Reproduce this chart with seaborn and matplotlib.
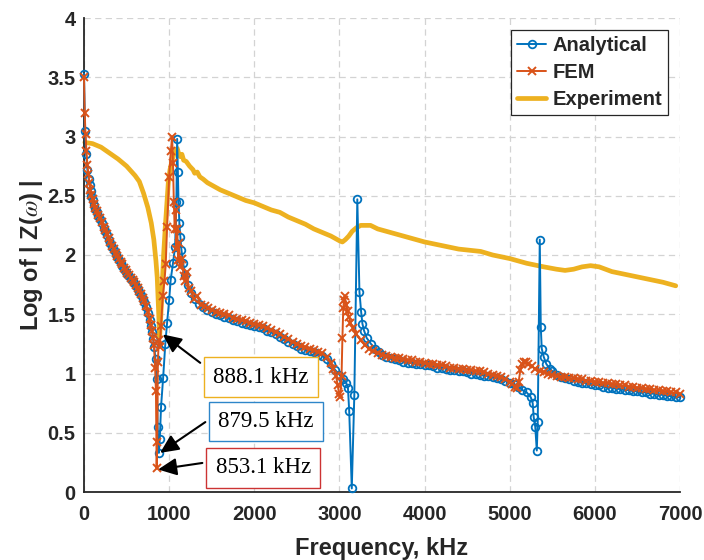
import matplotlib
matplotlib.use("Agg")
import matplotlib.pyplot as plt
from matplotlib.ticker import FuncFormatter, MultipleLocator
import pandas as pd
import seaborn as sns

# ---------------- data ----------------
ana_freq = [0, 12, 25, 40, 55, 66, 77, 88, 100, 115, 130, 150, 170, 190, 210, 230, 250, 270,
            290, 310, 330, 350, 370, 390, 410, 430, 450, 470, 490, 510, 530, 550, 570, 590,
            610, 630, 650, 670, 690, 710, 730, 750, 770, 785, 800, 812, 825, 840, 855, 865,
            879.5, 890, 905, 929, 955, 976,
            1000, 1018, 1045, 1070, 1085, 1094, 1102, 1110, 1120, 1132, 1145, 1165, 1190, 1220,
            1260, 1300, 1350, 1400, 1450, 1500, 1550, 1600, 1650, 1700, 1750, 1800, 1850, 1900,
            1950, 2000, 2050, 2100, 2150, 2200, 2250, 2300, 2350, 2400, 2450, 2500, 2550, 2600,
            2650, 2700, 2750, 2800, 2850, 2900, 2950, 3000, 3040, 3080, 3100, 3115, 3145, 3175,
            3210, 3235, 3255, 3270, 3290, 3320, 3370, 3420, 3470, 3500, 3550, 3600, 3650, 3700,
            3750, 3800, 3850, 3900, 3950, 4000, 4050, 4100, 4150, 4200, 4250, 4300, 4350, 4400,
            4450, 4500, 4550, 4600, 4650, 4700, 4750, 4800, 4850, 4900, 4950, 5000, 5050, 5100,
            5150, 5200, 5247, 5270, 5282, 5300, 5318, 5329, 5353, 5365, 5376, 5400, 5430, 5470,
            5500, 5550, 5600, 5650, 5700, 5750, 5800, 5850, 5900, 5950, 6000, 6050, 6100, 6150,
            6200, 6250, 6300, 6350, 6400, 6450, 6500, 6550, 6600, 6650, 6700, 6750, 6800, 6850,
            6900, 6950, 7000]
ana_val = [3.53, 3.05, 2.85, 2.72, 2.64, 2.59, 2.54, 2.50, 2.46, 2.42, 2.39, 2.36, 2.33, 2.30,
           2.27, 2.23, 2.20, 2.17, 2.13, 2.10, 2.07, 2.04, 2.01, 1.98, 1.96, 1.93, 1.91, 1.88,
           1.86, 1.84, 1.82, 1.80, 1.78, 1.76, 1.74, 1.71, 1.69, 1.66, 1.63, 1.60, 1.56, 1.51,
           1.45, 1.40, 1.35, 1.29, 1.22, 1.12, 0.95, 0.55,
           0.33, 0.45, 0.72, 0.96, 1.25, 1.43, 1.62, 1.79, 1.93, 2.07, 2.45, 2.98, 2.70, 2.45,
           2.27, 2.15, 2.04, 1.93, 1.83, 1.75, 1.68, 1.63, 1.59, 1.56, 1.54, 1.52, 1.50, 1.49,
           1.48, 1.47, 1.45, 1.44, 1.43, 1.42, 1.41, 1.40, 1.39, 1.38, 1.36, 1.35, 1.33, 1.31,
           1.29, 1.27, 1.25, 1.23, 1.21, 1.20, 1.19, 1.18, 1.16, 1.15, 1.12, 1.08, 1.03, 0.99,
           0.95, 0.92, 0.88, 0.68, 0.03, 0.82, 2.47, 1.69, 1.52, 1.42, 1.36, 1.30, 1.25, 1.21,
           1.18, 1.16, 1.14, 1.13, 1.12, 1.11, 1.10, 1.09, 1.09, 1.08, 1.08, 1.07, 1.07, 1.06,
           1.05, 1.05, 1.04, 1.03, 1.03, 1.02, 1.02, 1.01, 1.00, 1.00, 0.99, 0.98, 0.98, 0.97,
           0.96, 0.95, 0.94, 0.92, 0.91, 0.89, 0.86, 0.84, 0.80, 0.75, 0.63, 0.55, 0.35, 0.59,
           2.13, 1.39, 1.21, 1.14, 1.08, 1.04, 1.02, 0.99, 0.97, 0.96, 0.95, 0.94, 0.93, 0.92,
           0.92, 0.91, 0.90, 0.90, 0.89, 0.88, 0.88, 0.87, 0.87, 0.86, 0.86, 0.85, 0.85, 0.84,
           0.84, 0.83, 0.83, 0.82, 0.82, 0.81, 0.81, 0.80, 0.80]

fem_freq = [0, 8, 18, 28, 40, 52, 64, 75, 88, 100, 115, 130, 150, 170, 190, 210, 230, 250,
            270, 290, 310, 330, 350, 370, 390, 410, 430, 450, 470, 490, 510, 530, 550, 570,
            590, 610, 630, 650, 670, 690, 710, 730, 750, 770, 785, 800, 812, 822, 835, 845,
            853.1, 860, 868, 878, 890, 905,
            925, 945, 960, 976, 1000, 1020, 1035, 1045, 1055, 1065, 1075, 1085, 1095, 1105,
            1115, 1130, 1150, 1170, 1190, 1210, 1230, 1260, 1290, 1330, 1370, 1420, 1460, 1500,
            1550, 1600, 1650, 1700, 1750, 1800, 1850, 1900, 1950, 2000, 2050, 2100, 2150, 2200,
            2250, 2300, 2350, 2400, 2450, 2500, 2550, 2600, 2650, 2700, 2750, 2800, 2850, 2900,
            2930, 2960, 2980, 2995, 3010, 3025, 3035, 3045, 3055, 3065, 3080, 3095, 3110, 3130,
            3160, 3200, 3250, 3300, 3350, 3400, 3450, 3500, 3550, 3600, 3650, 3700, 3750, 3800,
            3850, 3900, 3950, 4000, 4050, 4100, 4150, 4200, 4250, 4300, 4350, 4400, 4450, 4500,
            4550, 4600, 4650, 4700, 4750, 4800, 4850, 4900, 4950, 5000, 5030, 5060, 5085, 5105,
            5125, 5145, 5165, 5190, 5220, 5260, 5300, 5350, 5400, 5450, 5500, 5550, 5600, 5650,
            5700, 5750, 5800, 5850, 5900, 5950, 6000, 6050, 6100, 6150, 6200, 6250, 6300, 6350,
            6400, 6450, 6500, 6550, 6600, 6650, 6700, 6750, 6800, 6850, 6900, 6950, 7000]
fem_val = [3.50, 3.20, 3.02, 2.88, 2.76, 2.68, 2.61, 2.55, 2.51, 2.47, 2.43, 2.40, 2.37, 2.34,
           2.31, 2.28, 2.24, 2.21, 2.18, 2.14, 2.11, 2.08, 2.05, 2.02, 1.99, 1.97, 1.94, 1.92,
           1.89, 1.87, 1.85, 1.83, 1.81, 1.79, 1.77, 1.75, 1.72, 1.70, 1.67, 1.64, 1.61, 1.57,
           1.52, 1.46, 1.41, 1.36, 1.30, 1.24, 1.05, 0.85,
           0.20, 0.42, 1.10, 1.28, 1.22, 1.40, 1.65, 1.78, 1.92, 2.24, 2.66, 2.88, 3.00, 2.78,
           2.45, 2.22, 2.38, 2.05, 2.22, 1.96, 2.10, 1.90, 1.97, 1.82, 1.78, 1.86, 1.72, 1.70,
           1.63, 1.65, 1.58, 1.57, 1.55, 1.54, 1.52, 1.51, 1.50, 1.49, 1.47, 1.46, 1.45, 1.44,
           1.43, 1.42, 1.41, 1.40, 1.38, 1.37, 1.35, 1.33, 1.31, 1.29, 1.27, 1.25, 1.23, 1.22,
           1.21, 1.20, 1.18, 1.17, 1.14, 1.09, 1.04, 0.98, 0.90, 0.83, 0.80, 0.98, 1.30, 1.55,
           1.62, 1.65, 1.58, 1.53, 1.48, 1.43, 1.38, 1.33, 1.28, 1.24, 1.21, 1.19, 1.17, 1.16,
           1.15, 1.14, 1.13, 1.13, 1.12, 1.11, 1.11, 1.10, 1.10, 1.09, 1.08, 1.08, 1.07, 1.07,
           1.06, 1.05, 1.05, 1.04, 1.04, 1.03, 1.03, 1.02, 1.02, 1.01, 1.00, 0.99, 0.98, 0.97,
           0.95, 0.93, 0.91, 0.89, 0.88, 0.93, 1.03, 1.08, 1.10, 1.10, 1.08, 1.06, 1.04, 1.02,
           1.01, 1.00, 0.99, 0.98, 0.97, 0.97, 0.96, 0.96, 0.95, 0.95, 0.94, 0.94, 0.93, 0.93,
           0.92, 0.92, 0.91, 0.91, 0.90, 0.90, 0.89, 0.89, 0.88, 0.88, 0.87, 0.87, 0.86, 0.86,
           0.85, 0.85, 0.84, 0.84, 0.83]

exp_freq = [10, 100, 200, 300, 400, 500, 600, 650, 700, 750, 790, 820, 845, 860, 875, 888.1,
            900, 915, 935, 955, 975, 990, 1010, 1035, 1060, 1080, 1095, 1110, 1130, 1150, 1170,
            1200, 1240, 1280, 1300, 1330, 1360, 1400, 1450, 1500, 1600, 1700, 1800, 1900, 2000,
            2100, 2200, 2300, 2400, 2500, 2600, 2700, 2800, 2900, 2950, 3000, 3035, 3070, 3110,
            3150, 3200, 3250, 3300, 3365, 3450, 3550, 3650, 3800, 4000, 4200, 4400, 4659, 4800,
            5000, 5200, 5400, 5550, 5650, 5750, 5850, 5950, 6050, 6200, 6400, 6600, 6800, 6950]
exp_val = [2.95, 2.94, 2.91, 2.86, 2.81, 2.75, 2.67, 2.62, 2.52, 2.40, 2.27, 2.13, 1.95, 1.81,
           1.55, 1.31, 1.45, 1.68, 2.00, 2.24, 2.45, 2.61, 2.72, 2.80, 2.86, 2.88, 2.90, 2.86,
           2.83, 2.85, 2.80, 2.79, 2.75, 2.72, 2.69, 2.70, 2.66, 2.64, 2.61, 2.59, 2.55, 2.52,
           2.49, 2.46, 2.44, 2.41, 2.38, 2.36, 2.32, 2.29, 2.26, 2.22, 2.19, 2.16, 2.14, 2.12,
           2.11, 2.13, 2.16, 2.20, 2.23, 2.25, 2.25, 2.25, 2.22, 2.20, 2.18, 2.15, 2.11, 2.08,
           2.05, 2.03, 2.00, 1.97, 1.93, 1.90, 1.88, 1.87, 1.88, 1.90, 1.91, 1.90, 1.86, 1.83,
           1.80, 1.77, 1.74]

callout_labels = ["888.1 kHz", "879.5 kHz", "853.1 kHz"]
x_ticks = [0, 1000, 2000, 3000, 4000, 5000, 6000, 7000]

# ---------------- style ----------------
sns.set_theme(style="white")
plt.rcParams["font.family"] = ["Liberation Sans", "DejaVu Sans"]
plt.rcParams["mathtext.fontset"] = "stix"

C_BLUE, C_ORANGE, C_YELLOW = "#0072BD", "#D95319", "#EDB120"
DARK = "#262626"

fig = plt.figure(figsize=(7.04, 5.6), dpi=100)
ax = fig.add_axes([84 / 704, 1 - 492 / 560, 596 / 704, 474 / 560])

df_a = pd.DataFrame({"f": ana_freq, "v": ana_val})
df_f = pd.DataFrame({"f": fem_freq, "v": fem_val})
df_e = pd.DataFrame({"f": exp_freq, "v": exp_val})

sns.lineplot(data=df_e, x="f", y="v", ax=ax, sort=False, estimator=None,
             color=C_YELLOW, lw=3.4, label="Experiment", zorder=2, clip_on=False)
sns.lineplot(data=df_a, x="f", y="v", ax=ax, sort=False, estimator=None,
             color=C_BLUE, lw=1.4, marker="o", markersize=5.5, markerfacecolor="none",
             markeredgecolor=C_BLUE, markeredgewidth=1.3, label="Analytical", zorder=3,
             clip_on=False)
sns.lineplot(data=df_f, x="f", y="v", ax=ax, sort=False, estimator=None,
             color=C_ORANGE, lw=1.4, marker="x", markersize=5.5,
             markeredgecolor=C_ORANGE, markeredgewidth=1.4, label="FEM", zorder=4,
             clip_on=False)

ax.set_xlim(0, 7000)
ax.set_ylim(0, 4)
ax.set_xticks(x_ticks)
ax.yaxis.set_major_locator(MultipleLocator(0.5))
ax.yaxis.set_major_formatter(FuncFormatter(lambda v, p: f"{v:g}"))
ax.xaxis.set_major_formatter(FuncFormatter(lambda v, p: f"{v:g}"))

ax.grid(True, color="#d3d3d3", lw=0.9, ls=(0, (5, 3.5)))
ax.set_axisbelow(True)
for s in ["top", "right"]:
    ax.spines[s].set_visible(False)
for s in ["left", "bottom"]:
    ax.spines[s].set_color(DARK)
    ax.spines[s].set_linewidth(1.3)
ax.tick_params(axis="both", direction="in", length=4, width=1.2, color=DARK,
               labelcolor=DARK, labelsize=14.5)
ax.tick_params(axis="x", pad=9.5)
ax.tick_params(axis="y", pad=6)
for lbl in ax.get_xticklabels() + ax.get_yticklabels():
    lbl.set_fontweight("bold")

ax.set_xlabel("Frequency, kHz", fontsize=17, fontweight="bold", color=DARK, labelpad=9)
ax.set_ylabel(r"Log of | Z($\omega$) |", fontsize=17, fontweight="bold", color=DARK,
              labelpad=2)

h, l = ax.get_legend_handles_labels()
order = [l.index("Analytical"), l.index("FEM"), l.index("Experiment")]
leg = ax.legend([h[i] for i in order], [l[i] for i in order], loc="upper right",
                bbox_to_anchor=(0.98, 0.975), borderaxespad=0, frameon=True,
                fancybox=False, framealpha=1, edgecolor=DARK, handlelength=1.45,
                handletextpad=0.3, borderpad=0.3, labelspacing=0.4,
                prop={"weight": "bold", "size": 14.5})
leg.get_frame().set_linewidth(0.9)
for t in leg.get_texts():
    t.set_color(DARK)

# callouts: text box centre, arrow tail, arrow head (data coords)
box_xy = [(2080, 0.97), (2140, 0.595), (2105, 0.203)]
tails = [(1365, 1.09), (1425, 0.59), (1390, 0.245)]
heads = [(925, 1.33), (893, 0.33), (870, 0.19)]
edge_cols = [C_YELLOW, "#2E86C9", "#CC3333"]
for txt, bxy, tl, hd, ec in zip(callout_labels, box_xy, tails, heads, edge_cols):
    ax.annotate("", xy=hd, xytext=tl,
                arrowprops=dict(arrowstyle="-|>,head_length=0.75,head_width=0.35",
                                color="black", lw=1.5, mutation_scale=15,
                                shrinkA=0, shrinkB=0), zorder=6)
    ax.text(bxy[0], bxy[1], txt, ha="center", va="center", fontsize=16.5,
            family=["Liberation Serif", "DejaVu Serif"], color="black", zorder=7,
            bbox=dict(boxstyle="square,pad=0.4", fc="white", ec=ec, lw=1.0))

fig.savefig("out.png", dpi=100)
